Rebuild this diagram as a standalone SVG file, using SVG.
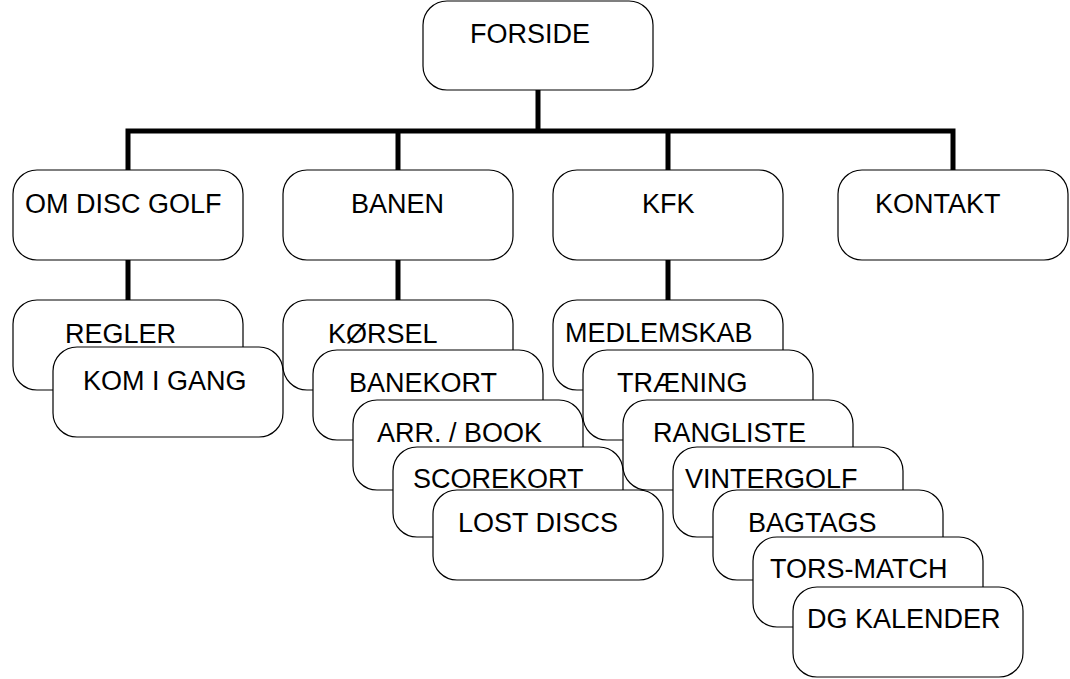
<svg xmlns="http://www.w3.org/2000/svg" width="1070" height="679" viewBox="0 0 1070 679">
<style>
.b{fill:#fff;stroke:#000;stroke-width:1.2}
.t{font-family:"Liberation Sans",Arial,sans-serif;font-size:27px;fill:#000}
.c{fill:none;stroke:#000;stroke-width:5}
</style>
<rect width="1070" height="679" fill="#fff"/>
<g id="connectors">
<path class="c" d="M538 90V131M128 131H953M128 128.5V170M398 128.5V170M668 128.5V170M953 128.5V170"/>
<path class="c" d="M128 260V300M398 260V300M668 260V300"/>
</g>
<g id="forside"><rect class="b" x="423" y="1" width="230" height="89" rx="24"/><text class="t" x="470" y="43">FORSIDE</text></g>
<g id="om-disc-golf"><rect class="b" x="13" y="170" width="230" height="90" rx="24"/><text class="t" x="25" y="213">OM DISC GOLF</text></g>
<g id="banen"><rect class="b" x="283" y="170" width="230" height="90" rx="24"/><text class="t" x="351" y="213">BANEN</text></g>
<g id="kfk"><rect class="b" x="553" y="170" width="230" height="90" rx="24"/><text class="t" x="642" y="213">KFK</text></g>
<g id="kontakt"><rect class="b" x="838" y="170" width="230" height="90" rx="24"/><text class="t" x="875" y="213">KONTAKT</text></g>

<g id="regler"><rect class="b" x="13" y="300" width="230" height="90" rx="24"/><text class="t" x="65" y="343">REGLER</text></g>
<g id="kom-i-gang"><rect class="b" x="53" y="347" width="230" height="90" rx="24"/><text class="t" x="83" y="390">KOM I GANG</text></g>

<g id="korsel"><rect class="b" x="283" y="300" width="230" height="90" rx="24"/><text class="t" x="328" y="343">KØRSEL</text></g>
<g id="banekort"><rect class="b" x="313" y="350" width="230" height="90" rx="24"/><text class="t" x="349" y="392">BANEKORT</text></g>
<g id="arr-book"><rect class="b" x="353" y="400" width="230" height="90" rx="24"/><text class="t" x="377" y="442">ARR. / BOOK</text></g>
<g id="scorekort"><rect class="b" x="393" y="447" width="230" height="90" rx="24"/><text class="t" x="413" y="488">SCOREKORT</text></g>
<g id="lost-discs"><rect class="b" x="433" y="490" width="230" height="90" rx="24"/><text class="t" x="458" y="532">LOST DISCS</text></g>

<g id="medlemskab"><rect class="b" x="553" y="300" width="230" height="90" rx="24"/><text class="t" x="565" y="342">MEDLEMSKAB</text></g>
<g id="traening"><rect class="b" x="583" y="350" width="230" height="90" rx="24"/><text class="t" x="617" y="392">TRÆNING</text></g>
<g id="rangliste"><rect class="b" x="623" y="400" width="230" height="90" rx="24"/><text class="t" x="653" y="442">RANGLISTE</text></g>
<g id="vintergolf"><rect class="b" x="673" y="447" width="230" height="90" rx="24"/><text class="t" x="685" y="488">VINTERGOLF</text></g>
<g id="bagtags"><rect class="b" x="713" y="490" width="230" height="90" rx="24"/><text class="t" x="748" y="532">BAGTAGS</text></g>
<g id="tors-match"><rect class="b" x="753" y="537" width="230" height="90" rx="24"/><text class="t" x="770" y="578">TORS-MATCH</text></g>
<g id="dg-kalender"><rect class="b" x="793" y="587" width="230" height="90" rx="24"/><text class="t" x="807" y="628">DG KALENDER</text></g>
</svg>
